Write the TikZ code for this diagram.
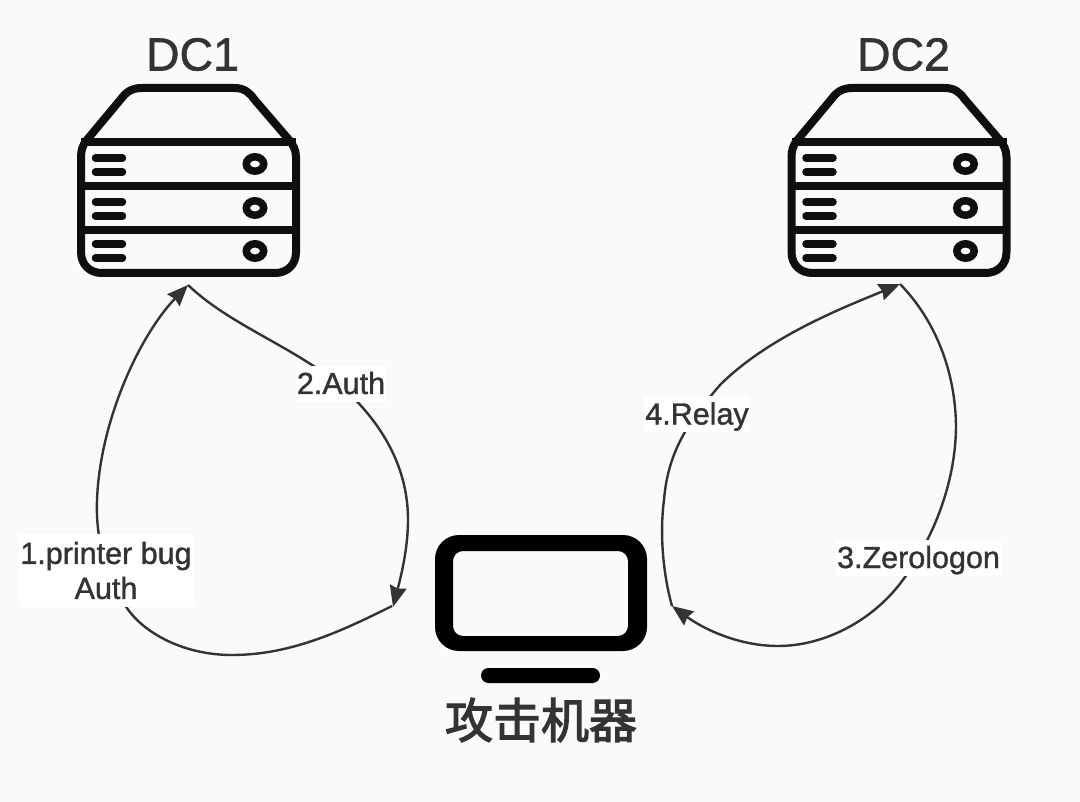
\documentclass[tikz,border=0pt]{standalone}
\usepackage{fontspec}
\setmainfont{Liberation Sans}[FakeBold=1.2]
\newfontfamily\cjk{Noto Sans CJK SC}[FakeBold=2.5]
\usetikzlibrary{arrows.meta}
\definecolor{bgc}{HTML}{FAFAFA}
\definecolor{ink}{HTML}{0F0F0F}
\definecolor{txt}{HTML}{333333}
\tikzset{
  x=1pt,y=1pt,
  srv/.style={draw=ink,line width=8pt,line join=round},
  srvthin/.style={draw=ink,line width=7.5pt},
  srvbar/.style={draw=ink,line width=7.5pt,line cap=round},
  conn/.style={draw=txt,line width=2.4pt,-{Stealth[length=21pt,width=17pt,inset=2pt]}},
  lab/.style={fill=white,text=txt,font=\fontsize{30.5}{35}\selectfont,inner xsep=1pt,inner ysep=0.5pt,align=center},
  lab1/.style={lab,text height=27.5pt,text depth=7.5pt},
  title/.style={text=txt,font=\fontsize{46.5}{50}\selectfont,inner sep=0pt},
  server/.pic={
    \path[srv] (5,-100) -- (5,-73)
       .. controls (5,-66) and (7,-61) .. (10,-57) -- (45,-15)
       .. controls (50,-8) and (56,-4) .. (66,-4) -- (158,-4)
       .. controls (168,-4) and (173,-8) .. (178,-15) -- (214,-57)
       .. controls (217,-61) and (220,-66) .. (220,-73) -- (220,-168)
       .. controls (220,-181) and (211,-189) .. (199,-189) -- (26,-189)
       .. controls (14,-189) and (5,-181) .. (5,-168) -- cycle;
    \foreach \yy in {-58,-102,-146}{\path[srvthin] (5,\yy) -- (220,\yy);}
    \foreach \yy in {-74,-88,-118,-132,-160,-174}{\path[srvbar] (19.5,\yy) -- (46.5,\yy);}
    \foreach \yy in {-80,-124,-167}{\path[draw=ink,line width=7.5pt] (179,\yy) ellipse [x radius=8.7,y radius=7.2];}
  }
}
\begin{document}
\begin{tikzpicture}
\useasboundingbox (0,0) rectangle (1080,-802);
\fill[bgc] (0,0) rectangle (1080,-802);
% icons
\pic at (76,-84) {server};
\pic at (786.5,-84) {server};
\fill[black,even odd rule]
  [rounded corners=24pt] (435,-535) rectangle (647,-651)
  [rounded corners=10pt] (453,-551) rectangle (628,-636);
\fill[black,rounded corners=7.5pt] (481,-668) rectangle (600,-683);
% names
\node[title] (dc1) at (192.5,-54.5) {DC1};
\node[title] (dc2) at (903.5,-54.5) {DC2};
\node[text=txt,inner sep=0pt,font=\cjk\fontsize{48}{50}\selectfont] (atk) at (541,-720) {攻击机器};
% anchors
\coordinate (dc1p) at (188,-285);
\coordinate (dc2p) at (900,-284);
\coordinate (atkl) at (392,-606);
\coordinate (atkr) at (672,-606);
% connectors
\draw[conn] (atkl) .. controls (340,-632) and (290,-655) .. (232,-655)
  .. controls (180,-655) and (140,-630) .. (125,-605)
  .. controls (100,-560) and (96,-530) .. (97,-500)
  .. controls (100,-420) and (140,-335) .. (dc1p);
\draw[conn] (dc1p) .. controls (230,-325) and (290,-345) .. (340,-385)
  .. controls (385,-425) and (408,-470) .. (408,-520)
  .. controls (408,-550) and (400,-580) .. (393,-607);
\draw[conn] (dc2p) .. controls (935,-320) and (955,-370) .. (956,-425)
  .. controls (956,-480) and (935,-535) .. (905,-577)
  .. controls (875,-620) and (825,-646) .. (778,-646)
  .. controls (740,-646) and (705,-630) .. (atkr);
\draw[conn] (atkr) .. controls (662,-570) and (660,-530) .. (664,-500)
  .. controls (668,-450) and (690,-420) .. (720,-385)
  .. controls (770,-335) and (850,-305) .. (dc2p);
% labels
\node[lab,minimum width=174pt,minimum height=73pt] (l1) at (106,-570.5) {1.printer bug\\Auth};
\node[lab1] (l2) at (341,-384) {2.Auth};
\node[lab1] (l3) at (918.5,-558) {3.Zerologon};
\node[lab1] (l4) at (697,-414.5) {4.Relay};
\end{tikzpicture}
\end{document}
